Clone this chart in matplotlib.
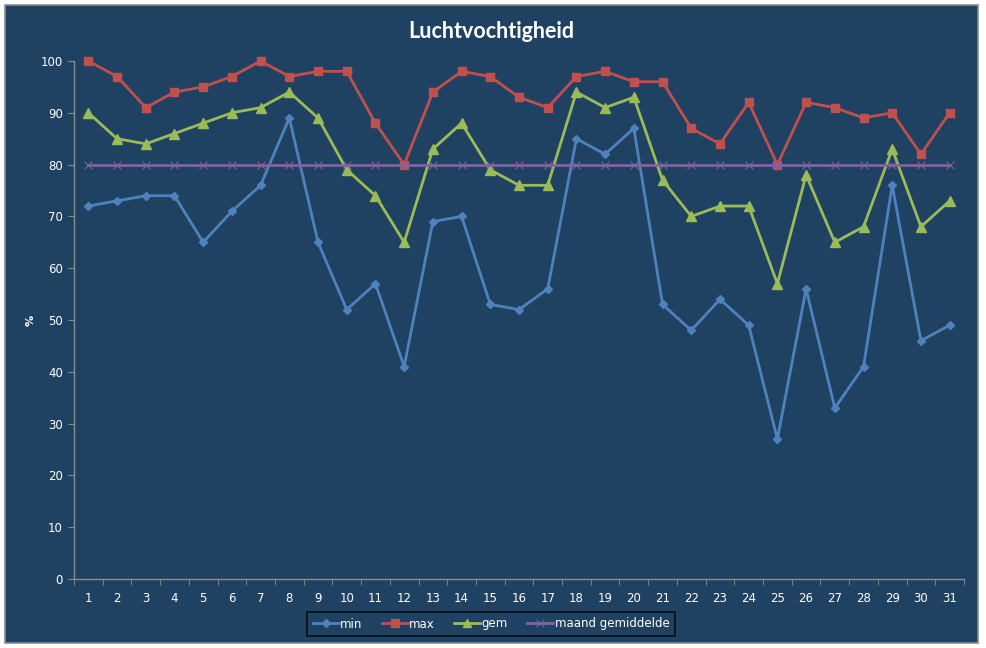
import matplotlib
matplotlib.use("Agg")
import matplotlib.pyplot as plt
from matplotlib.patches import Rectangle

days = list(range(1, 32))
v_min = [72, 73, 74, 74, 65, 71, 76, 89, 65, 52, 57, 41, 69, 70, 53, 52, 56, 85, 82, 87, 53, 48, 54, 49, 27, 56, 33, 41, 76, 46, 49]
v_max = [100, 97, 91, 94, 95, 97, 100, 97, 98, 98, 88, 80, 94, 98, 97, 93, 91, 97, 98, 96, 96, 87, 84, 92, 80, 92, 91, 89, 90, 82, 90]
v_gem = [90, 85, 84, 86, 88, 90, 91, 94, 89, 79, 74, 65, 83, 88, 79, 76, 76, 94, 91, 93, 77, 70, 72, 72, 57, 78, 65, 68, 83, 68, 73]
v_maand = [80] * 31
series_names = ["min", "max", "gem", "maand gemiddelde"]
title = "Luchtvochtigheid"
ylabel = "%"
yticks = [0, 10, 20, 30, 40, 50, 60, 70, 80, 90, 100]

W, H = 987, 648
BG = "#1F4263"
fig = plt.figure(figsize=(W / 100, H / 100), dpi=100)
fig.patch.set_facecolor("white")
frame = Rectangle((5 / W, 5 / H), (978 - 5) / W, (643 - 5) / H,
                  transform=fig.transFigure, facecolor=BG,
                  edgecolor="#8C8C8C", linewidth=1.2, zorder=-10)
fig.patches.append(frame)

x0, x1 = 74, 964
y_top, y_bot = 61, 579
ax = fig.add_axes([x0 / W, 1 - y_bot / H, (x1 - x0) / W, (y_bot - y_top) / H])
ax.set_zorder(1)
ax.patch.set_alpha(0)

xs = list(range(len(days)))
styles = [
    (v_min, "#4F81BD", "D", 4.5),
    (v_max, "#C0504D", "s", 6),
    (v_gem, "#9BBB59", "^", 6.5),
    (v_maand, "#8064A2", "x", 6),
]
for (vals, col, mk, ms), name in zip(styles, series_names):
    ax.plot(xs, vals, color=col, linewidth=2.0, marker=mk, markersize=ms,
            markeredgewidth=1 if mk != "x" else 0.7, markerfacecolor=col,
            markeredgecolor=col, label=name, clip_on=False)

ax.set_xlim(-0.5, len(days) - 0.5)
ax.set_ylim(0, 100)
ax.set_yticks(yticks)
ax.set_yticklabels([str(t) for t in yticks])
ax.set_xticks(xs)
ax.set_xticklabels([str(d) for d in days])
ax.set_xticks([i - 0.5 for i in range(len(days) + 1)], minor=True)

for s in ["top", "right"]:
    ax.spines[s].set_visible(False)
for s in ["left", "bottom"]:
    ax.spines[s].set_color("#8C8C8C")
    ax.spines[s].set_linewidth(1.0)

ax.tick_params(axis="x", which="major", length=0, pad=9, labelsize=8.5,
               labelcolor="white")
ax.tick_params(axis="x", which="minor", length=4, color="#8C8C8C", direction="out")
ax.tick_params(axis="y", length=4, color="#8C8C8C", direction="out", pad=4,
               labelsize=8.5, labelcolor="white")
for lab in ax.get_xticklabels() + ax.get_yticklabels():
    lab.set_family("DejaVu Sans")

fig.text(31 / W, 1 - 320 / H, ylabel, rotation=90, color="white", fontsize=8,
         fontweight="bold", ha="center", va="center")
fig.text(491 / W, 1 - 31 / H, title, color="white", fontsize=15.5,
         fontweight="bold", family="Lato", ha="center", va="center")

leg = fig.legend(loc="center", bbox_to_anchor=(491 / W, 1 - 624 / H), ncol=4,
                 frameon=True, handlelength=2.2, columnspacing=1.6,
                 handletextpad=0.15, borderpad=0.45, borderaxespad=0,
                 fancybox=False, markerscale=0.85,
                 prop={"family": "DejaVu Sans", "size": 8.5})
leg.get_frame().set_facecolor(BG)
leg.get_frame().set_edgecolor("black")
leg.get_frame().set_linewidth(1.2)
for t in leg.get_texts():
    t.set_color("white")

fig.savefig("out.png", dpi=100, facecolor=fig.get_facecolor())
